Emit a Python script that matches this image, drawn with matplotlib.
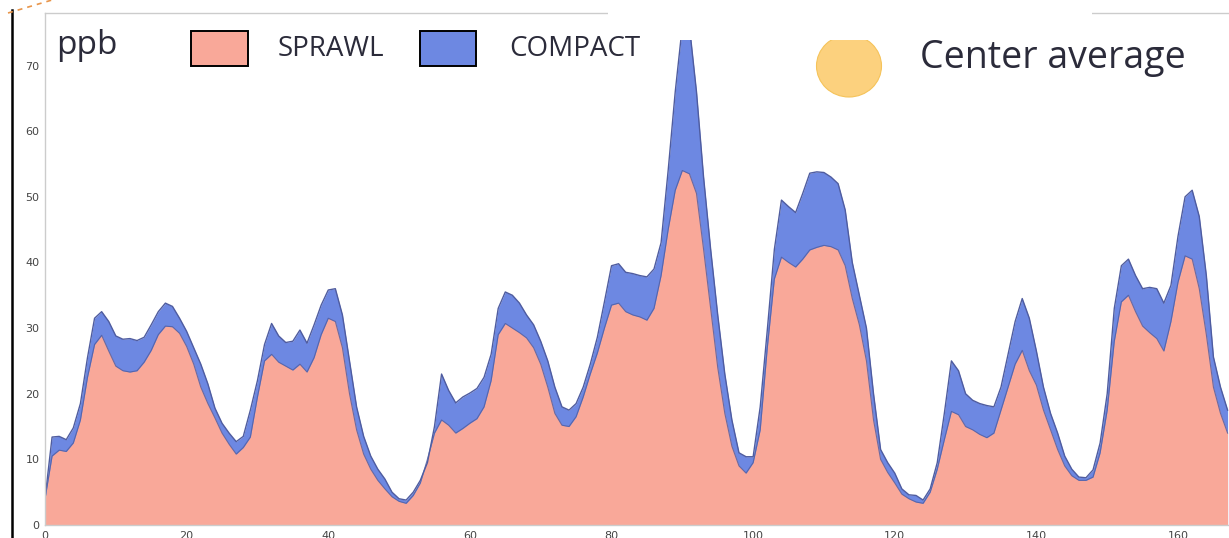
import numpy as np
import matplotlib
matplotlib.use("Agg")
import matplotlib.pyplot as plt
from matplotlib.patches import Rectangle, Ellipse
from matplotlib.lines import Line2D

# hourly ozone, one week (ppb)
compact = [
    4, 13.4, 13.5, 13, 14.8, 18.5, 25.5, 31.5, 32.5, 31,
    28.8, 28.3, 28.4, 28.1, 28.6, 30.5, 32.5, 33.8, 33.3, 31.5,
    29.5, 27, 24.5, 21.5, 17.8, 15.5, 14, 12.7, 13.5, 17.5,
    22, 27.5, 30.7, 28.8, 27.8, 28, 29.7, 27.7, 30.5, 33.5,
    35.8, 36, 32, 25, 18, 13.5, 10.5, 8.5, 7, 5,
    4, 3.8, 5, 6.8, 9.5, 15, 23, 20.5, 18.6, 19.5,
    20.1, 20.8, 22.5, 26, 33, 35.5, 35, 33.8, 32, 30.5,
    28, 25, 21, 18, 17.5, 18.5, 21, 24.5, 28.6, 34,
    39.5, 39.8, 38.5, 38.3, 38, 37.8, 39, 43, 54, 66,
    76, 76, 66, 53, 42, 32, 23, 16, 11, 10.4,
    10.4, 18, 29.7, 42, 49.5, 48.5, 47.6, 50.5, 53.6, 53.8,
    53.7, 53, 52, 48, 40, 35, 30, 20, 11.5, 9.5,
    7.9, 5.5, 4.6, 4.5, 3.8, 5.5, 9.5, 17, 25, 23.5,
    20, 19, 18.5, 18.2, 18, 21, 26, 31, 34.5, 31.5,
    26.5, 21, 17, 14, 10.5, 8.5, 7.3, 7.2, 8.4, 12.5,
    20, 33, 39.5, 40.5, 38, 36, 36.2, 36, 33.8, 36.5,
    44, 50, 51, 47, 38, 25.6, 21, 17.5,
]
sprawl = [
    4, 10.5, 11.4, 11.2, 12.5, 16, 22.5, 27.5, 28.9, 26.5,
    24.2, 23.5, 23.3, 23.5, 24.8, 26.6, 29, 30.3, 30.2, 29.2,
    27.2, 24.5, 21, 18.5, 16.3, 14, 12.3, 10.8, 11.8, 13.4,
    19.5, 25, 26, 24.8, 24.2, 23.6, 24.5, 23.3, 25.5, 29,
    31.5, 31, 27, 20, 14.5, 10.8, 8.5, 6.8, 5.5, 4.3,
    3.6, 3.3, 4.5, 6.4, 10, 14, 16, 15.2, 14, 14.7,
    15.5, 16.2, 18, 22, 29, 30.7, 30, 29.3, 28.5, 27,
    24.5, 21, 17, 15.2, 15, 16.5, 19.5, 23, 26.2, 30,
    33.5, 33.8, 32.5, 32, 31.7, 31.2, 33, 38, 45, 51,
    54, 53.5, 50.5, 42, 33, 24, 17, 12, 9, 7.9,
    9.5, 14.5, 27, 37.5, 40.8, 40, 39.3, 40.5, 41.9, 42.3,
    42.6, 42.4, 41.9, 39.5, 34.5, 30.5, 25, 16, 10, 8,
    6.4, 4.7, 4, 3.5, 3.3, 5, 8.5, 13, 17.3, 16.8,
    15, 14.5, 13.8, 13.3, 14, 17.5, 21, 24.5, 26.6, 23.5,
    21.3, 17.5, 14.5, 11.5, 9, 7.5, 6.8, 6.8, 7.3, 11,
    17.5, 28, 34, 35, 32.5, 30.3, 29.3, 28.4, 26.5, 31,
    37, 41, 40.5, 36, 29, 21, 17, 14,
]
hours = np.arange(len(compact))
x_ticks = [0, 20, 40, 60, 80, 100, 120, 140, 160]
y_ticks = [0, 10, 20, 30, 40, 50, 60, 70]

PINK = "#f9a899"
BLUE = "#6d88e2"
EDGE = "#4f5c9f"

W, H = 1229, 538
fig = plt.figure(figsize=(W / 100, H / 100), dpi=100)


def px(x, y):
    # pixel (from top-left) -> figure fraction
    return x / W, 1 - y / H


ax = fig.add_axes([45 / W, (H - 525) / H, (W - 45) / W, 512 / H])
ax.fill_between(hours, 0, compact, color=BLUE, lw=0)
ax.plot(hours, compact, color=EDGE, lw=1.0)
ax.fill_between(hours, 0, sprawl, color=PINK, lw=0)
ax.plot(hours, sprawl, color=EDGE, lw=0.8, alpha=0.8)
ax.set_xlim(0, 167.2)
ax.set_ylim(0, 78)
ax.set_xticks(x_ticks)
ax.set_yticks(y_ticks)
ax.tick_params(length=0, labelsize=8, labelcolor="#444444", pad=4)
for s in ["left", "top", "bottom"]:
    ax.spines[s].set_color("#cccccc")
    ax.spines[s].set_linewidth(1.0)
ax.spines["right"].set_visible(False)

# slide decorations
fig.add_artist(Line2D([12 / W, 12 / W], [0, 1 - 10 / H], color="black", lw=1.8))
fig.add_artist(Line2D([8 / W, 52 / W], [1 - 13 / H, 1], color="#e8954a", lw=1.2,
                      ls=(0, (3, 3))))

# legend-like annotations
x0, y0 = px(191, 66)
fig.add_artist(Rectangle((x0, y0), 57 / W, 35 / H, transform=fig.transFigure,
                         facecolor=PINK, edgecolor="black", lw=1.4, zorder=3))
x0, y0 = px(420, 66)
fig.add_artist(Rectangle((x0, y0), 56 / W, 35 / H, transform=fig.transFigure,
                         facecolor=BLUE, edgecolor="black", lw=1.4, zorder=3))

font = "Open Sans"
fig.text(*px(56, 45), "ppb", fontsize=24, family=font, color="#2b2b3a",
         va="center", ha="left", zorder=4)
fig.text(*px(278, 49), "SPRAWL", fontsize=20, family=font, color="#2b2b3a",
         va="center", ha="left", zorder=4)
fig.text(*px(509, 49), "COMPACT", fontsize=20, family=font, color="#2b2b3a",
         va="center", ha="left", zorder=4)

cx, cy = px(849, 66)
fig.add_artist(Ellipse((cx, cy), 65 / W, 62 / H, transform=fig.transFigure,
                       facecolor="#fcd17e", edgecolor="#f5c35a", lw=0.8, zorder=2))
# white panel covering top of the chart
x0, y0 = px(608, 40)
fig.add_artist(Rectangle((x0, y0), (1092 - 608) / W, 40 / H, transform=fig.transFigure,
                         facecolor="white", edgecolor="none", zorder=2.5))
fig.text(*px(920, 58), "Center average", fontsize=27, family=font, color="#2b2b3a",
         va="center", ha="left", zorder=4)

fig.savefig("out.png", dpi=100)
